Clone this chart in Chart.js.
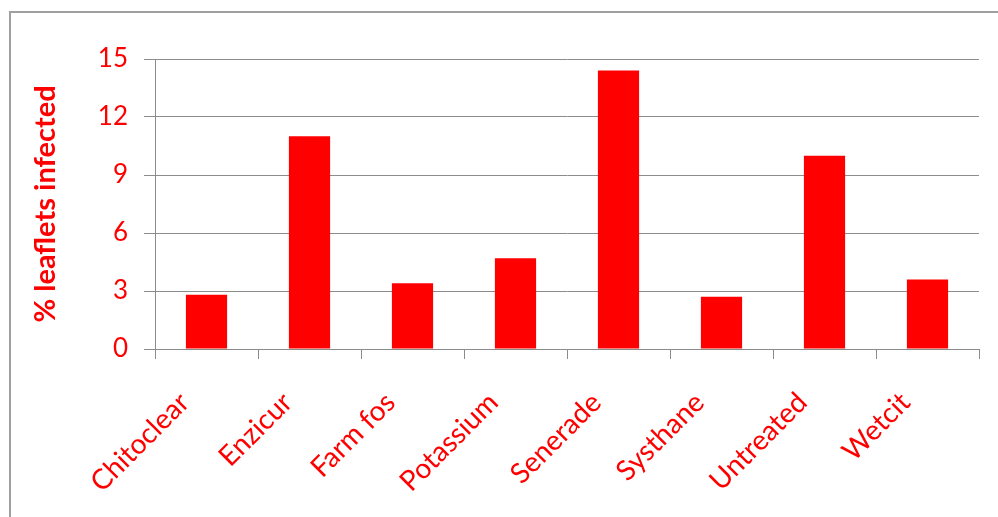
<!DOCTYPE html>
<html>
<head>
<meta charset="utf-8">
<script src="https://cdn.jsdelivr.net/npm/chart.js@4"></script>
<style>
	body { margin: 0; background: #fff; }
	canvas { display: block; }
</style>
</head>
<body>
<canvas id="graphique" width="998" height="517"></canvas>
<script>
const categories = ["Chitoclear", "Enzicur", "Farm fos", "Potassium", "Senerade", "Systhane", "Untreated", "Wetcit"];
const valeurs = [2.8, 11.0, 3.4, 4.7, 14.4, 2.7, 10.0, 3.6];
const titreAxeY = "% leaflets infected";

const rouge = "#ff0000";
const gris = "#8c8c8c";

// cadre gris autour du graphique (dépasse à droite et en bas)
const cadre = {
	id: "cadre",
	beforeDraw(chart) {
		const ctx = chart.ctx;
		ctx.save();
		ctx.fillStyle = "#fff";
		ctx.fillRect(0, 0, chart.width, chart.height);
		ctx.strokeStyle = "#a0a0a0";
		ctx.lineWidth = 2;
		ctx.beginPath();
		ctx.moveTo(10, chart.height);
		ctx.lineTo(10, 12);
		ctx.lineTo(chart.width, 12);
		ctx.stroke();
		ctx.restore();
	}
};

const config = {
	type: "bar",
	data: {
		labels: categories,
		datasets: [{
			data: valeurs,
			backgroundColor: rouge,
			barPercentage: 0.4,
			categoryPercentage: 1,
		}],
	},
	options: {
		responsive: false,
		animation: false,
		layout: { padding: { top: 59, right: 19, left: 0, bottom: 0 } },
		plugins: { legend: { display: false }, tooltip: { enabled: false } },
		scales: {
			x: {
				afterFit: scale => { scale.height = 168; },
				grid: { offset: true, drawOnChartArea: false, color: gris, tickLength: 10 },
				border: { color: gris },
				ticks: {
					color: rouge,
					font: { family: "Lato", size: 28 },
					minRotation: 45,
					maxRotation: 45,
					padding: 27,
					labelOffset: -22,
				},
			},
			y: {
				min: 0,
				max: 15,
				afterFit: scale => { scale.width = 155; },
				grid: { color: gris, tickLength: 11 },
				border: { color: gris },
				ticks: {
					stepSize: 3,
					color: rouge,
					font: { family: "Lato", size: 26 },
					padding: 16,
				},
				title: {
					display: true,
					text: titreAxeY,
					color: rouge,
					font: { family: "Lato", size: 29, weight: "bold" },
					padding: { top: 28 },
				},
			},
		},
	},
	plugins: [cadre],
};

const graphique = new Chart(document.querySelector("#graphique"), config);
</script>
</body>
</html>
